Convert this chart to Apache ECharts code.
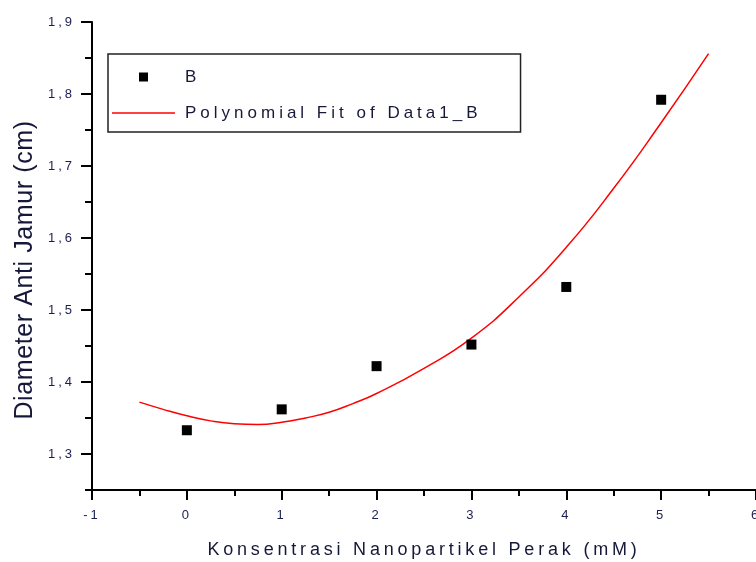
<!DOCTYPE html>
<html>
<head>
<meta charset="utf-8">
<script src="https://cdn.jsdelivr.net/npm/echarts@6/dist/echarts.min.js"></script>
<style>
  html, body { margin: 0; padding: 0; background: #fff; }
  #chart { width: 756px; height: 562px; }
</style>
</head>
<body>
<div id="chart"></div>
<script>
// ---- data ----
const dataX = [0, 1, 2, 3, 4, 5];
const dataB = [1.333, 1.362, 1.422, 1.452, 1.532, 1.792];
const fitX = [-0.5, -0.25, 0, 0.25, 0.5, 0.75, 1, 1.25, 1.5, 1.75, 2, 2.5, 3, 3.5, 4, 4.5, 5, 5.5];
const fitY = [1.372, 1.362, 1.353, 1.346, 1.342, 1.341, 1.344, 1.350, 1.358, 1.370, 1.384, 1.419, 1.461, 1.518, 1.587, 1.669, 1.760, 1.856];
const yMajorTicks = [1.3, 1.4, 1.5, 1.6, 1.7, 1.8, 1.9];
const xTitle = 'Konsentrasi Nanopartikel Perak (mM)';
const yTitle = 'Diameter Anti Jamur (cm)';
const seriesNames = ['B', 'Polynomial Fit of Data1_B'];

const labelColor = '#1b1f50';
const titleColor = '#16183a';
const fontFam = "'Liberation Sans', Arial, sans-serif";
const X_MIN = -1;

// letter spacing of the original export, applied per font size when text is painted
const SPACING = { 13: 3, 17: 4, 18: 3.8, 25: 0.6 };
(function () {
  const proto = CanvasRenderingContext2D.prototype;
  const orig = proto.fillText;
  proto.fillText = function (t, x, y, m) {
    const mm = /(\d+(?:\.\d+)?)px/.exec(this.font || '');
    const sp = mm ? SPACING[parseFloat(mm[1])] : 0;
    if ('letterSpacing' in this) this.letterSpacing = (sp || 0) + 'px';
    const r = (m === undefined) ? orig.call(this, t, x, y) : orig.call(this, t, x, y, m);
    if ('letterSpacing' in this) this.letterSpacing = '0px';
    return r;
  };
})();

const chart = echarts.init(document.getElementById('chart'), null, { renderer: 'canvas', devicePixelRatio: 1 });

chart.setOption({
  animation: false,
  backgroundColor: '#fff',
  grid: { left: 92, right: 0, top: 22, bottom: 72, outerBoundsMode: 'none', containLabel: false },
  legend: {
    orient: 'vertical',
    left: 108, top: 54,
    itemWidth: 63, itemHeight: 9, itemGap: 18,
    padding: [14, 139, 10, 4],
    borderColor: '#222', borderWidth: 1.5,
    selectedMode: false,
    textStyle: { fontSize: 17, fontFamily: fontFam, color: titleColor, lineHeight: 18, padding: [0, 0, 0, 5] },
    data: [
      { name: seriesNames[0], icon: 'path://M0,0h10v10h-10z' },
      { name: seriesNames[1], icon: 'path://M0,0h63v1.5h-63z' }
    ]
  },
  xAxis: {
    type: 'value', min: X_MIN, max: 6, interval: 1,
    name: xTitle, nameLocation: 'middle', nameGap: 51,
    nameTextStyle: { fontSize: 18, fontFamily: fontFam, color: titleColor },
    axisLine: { show: true, onZero: false, lineStyle: { color: '#000', width: 2 } },
    axisTick: { show: true, length: 10, lineStyle: { color: '#000', width: 2 } },
    minorTick: { show: true, splitNumber: 2, length: 6, lineStyle: { color: '#000', width: 2 } },
    axisLabel: { fontSize: 13, fontFamily: fontFam, color: labelColor, margin: 19 },
    splitLine: { show: false }, minorSplitLine: { show: false }
  },
  yAxis: {
    type: 'value', min: 1.25, max: 1.9, interval: 0.05, position: 'left',
    name: yTitle, nameLocation: 'middle', nameGap: 54,
    nameTextStyle: { fontSize: 25, fontFamily: fontFam, color: titleColor, padding: [0, 28, 0, 0] },
    axisLine: { show: true, onZero: false, lineStyle: { color: '#000', width: 2 } },
    axisTick: { show: true, inside: false, length: 7, lineStyle: { color: '#000', width: 2 } },
    axisLabel: {
      show: true, fontSize: 13, fontFamily: fontFam, color: labelColor, margin: 17,
      formatter: v => (Math.round(v * 100) % 10 === 0 ? v.toFixed(1).replace('.', ',') : '')
    },
    splitLine: { show: false }
  },
  series: [
    {
      name: seriesNames[0], type: 'scatter',
      symbol: 'rect', symbolSize: 10,
      itemStyle: { color: '#000', opacity: 1 },
      data: dataX.map((x, i) => [x, dataB[i]]),
      z: 3
    },
    {
      name: seriesNames[1], type: 'line',
      smooth: true, symbol: 'none', showSymbol: false,
      lineStyle: { color: '#ff0000', width: 1.5 },
      itemStyle: { color: '#ff0000' },
      data: fitX.map((x, i) => [x, fitY[i]]),
      z: 2
    },
    {
      // longer major tick marks on the y axis, placed through the axis scale
      name: 'yMajorTicks', type: 'custom', silent: true, clip: false, z: 5,
      data: yMajorTicks.map(v => [X_MIN, v]),
      renderItem: (params, api) => {
        const p = api.coord([api.value(0), api.value(1)]);
        return {
          type: 'line',
          shape: { x1: p[0] - 11, y1: p[1], x2: p[0], y2: p[1] },
          style: { stroke: '#000', lineWidth: 2 }
        };
      }
    }
  ]
});
</script>
</body>
</html>
